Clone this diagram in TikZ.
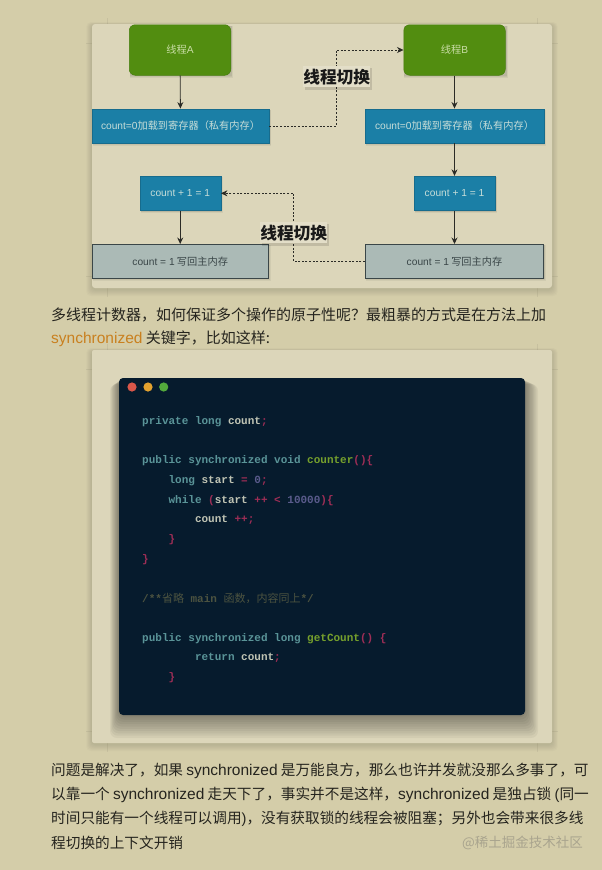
\documentclass[tikz,border=0pt]{standalone}
\usepackage{fontspec}
\setmainfont{Noto Sans CJK SC}
\newfontfamily\codefont{Liberation Mono}[BoldFont={Liberation Mono Bold}]
\newfontfamily\cjkcode{Noto Sans CJK SC}
\newfontfamily\latinfont{Liberation Sans}
\usetikzlibrary{arrows.meta}
\definecolor{pagebg}{HTML}{D4CDA9}
\definecolor{panelbg}{HTML}{DCD6BA}
\definecolor{threadfill}{HTML}{528D10}
\definecolor{threadline}{HTML}{467D0E}
\definecolor{bluefill}{HTML}{1B7FA6}
\definecolor{greyfill}{HTML}{ABBAB6}
\definecolor{bluetext}{HTML}{C6DDD8}
\definecolor{greentext}{HTML}{C9DDA6}
\definecolor{greytext}{HTML}{3A4648}
\definecolor{linecol}{HTML}{2B2B26}
\definecolor{bodytext}{HTML}{25241E}
\definecolor{orangetext}{HTML}{C9801F}
\definecolor{winbg}{HTML}{061B2D}
\definecolor{ckw}{HTML}{5A9498}
\definecolor{cvar}{HTML}{C0C4B4}
\definecolor{cpun}{HTML}{9E2E56}
\definecolor{cnum}{HTML}{5A5B8C}
\definecolor{cfun}{HTML}{76A02C}
\definecolor{ccom}{HTML}{4C5340}
\definecolor{dotred}{HTML}{D9574A}
\definecolor{dotyellow}{HTML}{E3A22F}
\definecolor{dotgreen}{HTML}{53A93C}
\definecolor{markgrey}{HTML}{A9A48E}
\newcommand{\kw}[1]{\textcolor{ckw}{#1}}
\newcommand{\vr}[1]{\textcolor{cvar}{#1}}
\newcommand{\pn}[1]{\textcolor{cpun}{#1}}
\newcommand{\nm}[1]{\textcolor{cnum}{#1}}
\newcommand{\fn}[1]{\textcolor{cfun}{#1}}
\newcommand{\syn}{{\latinfont\fontsize{15.5}{16}\selectfont synchronized}}
\newcommand{\plat}[1]{{\latinfont #1}}
\tikzset{
  x=1pt,y=-1pt,
  threadbox/.style={draw=threadline,line width=.5pt,fill=threadfill,rounded corners=6pt,text=greentext,font=\fontsize{10.2}{11}\selectfont,minimum width=101.5pt,minimum height=50.5pt,inner sep=0pt},
  bluebox/.style={draw=bluefill!85!black,line width=.4pt,fill=bluefill,text=bluetext,font=\fontsize{10.2}{11}\selectfont,minimum height=34.5pt,inner sep=0pt},
  greybox/.style={draw=greytext,line width=.6pt,fill=greyfill,text=greytext,font=\fontsize{10.2}{11}\selectfont,minimum height=34pt,inner sep=0pt},
  flow/.style={draw=linecol,line width=.85pt,-{Stealth[length=6.5pt,width=6pt]}},
  switchflow/.style={draw=linecol,line width=.7pt,dash pattern=on 2pt off 1.6pt,-{Stealth[length=6.5pt,width=6pt]}},
  switchlabel/.style={fill=panelbg!80!white,font=\fontsize{16.7}{18}\bfseries\selectfont,text=black!90,inner xsep=0pt,inner ysep=1pt,minimum width=66.5pt,minimum height=21pt},
  bodyline/.style={anchor=west,inner sep=0pt,text=bodytext,font=\fontsize{14.65}{16}\selectfont},
  codeline/.style={anchor=west,inner sep=0pt,font=\fontsize{11}{13}\codefont\bfseries},
  cropmark/.style={draw=black,opacity=.06,line width=.6pt},
}
\newcommand{\softshadow}[6]{%
  \foreach \s in {7,6,5,4,3,2,1}{
    \fill[#5,opacity=#6,rounded corners=4pt] (#1-\s*.8,#2-\s*.4+1) rectangle (#3+\s*.8,#4+\s+1);
  }%
}
\begin{document}
\begin{tikzpicture}
\useasboundingbox (0,0) rectangle (602,870);
\fill[pagebg] (0,0) rectangle (602,870);
% faint crop marks round the panels
\foreach \ya/\yb in {24/288,350/743}{
  \draw[cropmark] (86,\ya+19) -- (92,\ya+19);
  \draw[cropmark] (552,\ya+19) -- (558,\ya+19);
  \draw[cropmark] (86,\yb-12) -- (92,\yb-12);
  \draw[cropmark] (552,\yb-12) -- (558,\yb-12);
  \draw[cropmark] (107,\ya-6) -- (107,\ya);
  \draw[cropmark] (537,\ya-6) -- (537,\ya);
  \draw[cropmark] (107,\yb) -- (107,\yb+9);
  \draw[cropmark] (537,\yb) -- (537,\yb+9);
}
% panels
\softshadow{92}{24}{552}{288}{black}{.016}
\fill[panelbg,rounded corners=3pt] (92,24) rectangle (552,288);
\softshadow{92}{350}{552}{743}{black}{.016}
\fill[panelbg,rounded corners=2pt] (92,350) rectangle (552,743);
% box shadows
\foreach \a/\b/\c/\d in {129.3/24.7/230.7/75.3,403.3/24.7/505.7/75.3,92/108.7/269/143.3,365.3/108.7/543.7/143.3,139.7/176/220.7/210.7,414/176/495/210.7,92/244.3/268.3/278.3,365.3/244.3/543.7/278.3}{
  \foreach \s in {.8,1.6,2.4}
    \fill[black,opacity=.05] (\a+1,\b+1) rectangle (\c+\s,\d+\s);
}
% diagram
\node[threadbox] (ta) at (180,50) {线程\plat{A}};
\node[threadbox] (tb) at (454.5,50) {线程\plat{B}};
\node[bluebox,minimum width=177pt] (la) at (180.5,126) {\plat{count=0}加载到寄存器（私有内存）};
\node[bluebox,minimum width=178.4pt] (lb) at (454.5,126) {\plat{count=0}加载到寄存器（私有内存）};
\node[bluebox,minimum width=81pt] (ca) at (180.2,193.3) {\plat{count + 1 = 1}};
\node[bluebox,minimum width=81pt] (cb) at (454.5,193.3) {\plat{count + 1 = 1}};
\node[greybox,minimum width=176.3pt] (wa) at (180.2,261.3) {\plat{count = 1} 写回主内存};
\node[greybox,minimum width=178.4pt] (wb) at (454.5,261.3) {\plat{count = 1} 写回主内存};
\draw[flow] (ta) -- (la);
\draw[flow] (tb) -- (lb);
\draw[flow] (lb) -- (cb);
\draw[flow] (ca) -- (wa);
\draw[flow] (cb) -- (wb);
\draw[switchflow] (la.east) -- (336.3,126) -- (336.3,50) -- (tb.west);
\draw[switchflow] (wb.west) -- (293.7,261.3) -- (293.7,193.3) -- (ca.east);
\fill[black,opacity=.12] (304.5,68) rectangle (371.5,89.5);
\fill[black,opacity=.12] (261.5,224) rectangle (328.5,245.5);
\node[switchlabel] (s1) at (336.7,76.7) {线程切换};
\node[switchlabel] (s2) at (293.7,232.7) {线程切换};
% paragraph above the code
\node[bodyline,font=\fontsize{15}{16}\selectfont] (p1) at (51,315) {多线程计数器，如何保证多个操作的原子性呢？最粗暴的方式是在方法上加};
\node[bodyline,font=\fontsize{15}{16}\selectfont] (p2) at (51,339) {\textcolor{orangetext}{\syn} 关键字，比如这样:};
% code window
\foreach \s in {20,18,16,14,12,10,8,6,4,2}
  \fill[black,opacity=.045,rounded corners=7pt] (119-\s*.45,378+\s*.3) rectangle (525+\s*.65,715+\s*1.15);
\fill[winbg,rounded corners=4pt] (119,378) rectangle (525,715);
\fill[dotred] (132,387) circle (4.6);
\fill[dotyellow] (148,387) circle (4.6);
\fill[dotgreen] (163.7,387) circle (4.6);
\node[codeline] (c1) at (142,421.7) {\kw{private long} \vr{count}\pn{;}};
\node[codeline] (c2) at (142,460.7) {\kw{public synchronized void} \fn{counter}\pn{()\{}};
\node[codeline] (c3) at (168.4,480.7) {\kw{long} \vr{start} \pn{=} \nm{0}\pn{;}};
\node[codeline] (c4) at (168.4,500.2) {\kw{while} \pn{(}\vr{start} \pn{++ <} \nm{10000}\pn{)\{}};
\node[codeline] (c5) at (194.8,520) {\vr{count} \pn{++;}};
\node[codeline] (c6) at (168.4,540) {\pn{\}}};
\node[codeline] (c7) at (142,559.2) {\pn{\}}};
\node[codeline] (c8) at (142,598.4) {\textcolor{ccom}{/**{\cjkcode\mdseries 省略} main {\cjkcode\mdseries 函数，内容同上}*/}};
\node[codeline] (c9) at (142,638.2) {\kw{public synchronized long} \fn{getCount}\pn{() \{}};
\node[codeline] (c10) at (194.8,657.7) {\kw{return} \vr{count}\pn{;}};
\node[codeline] (c11) at (168.4,677.7) {\pn{\}}};
% paragraph below the code
\node[bodyline] (q1) at (51,771) {问题是解决了，如果 \syn{} 是万能良方，那么也许并发就没那么多事了，可};
\node[bodyline] (q2) at (51,795) {以靠一个 \syn{} 走天下了，事实并不是这样，\syn{} 是独占锁 {\latinfont(}同一};
\node[bodyline] (q3) at (51,819) {时间只能有一个线程可以调用{\latinfont)}，没有获取锁的线程会被阻塞；另外也会带来很多线};
\node[bodyline] (q4) at (51,843) {程切换的上下文开销};
\node[anchor=east,inner sep=0pt,text=markgrey,font=\fontsize{13.5}{15}\selectfont] (wm) at (583,842.5) {@稀土掘金技术社区};
\end{tikzpicture}
\end{document}
